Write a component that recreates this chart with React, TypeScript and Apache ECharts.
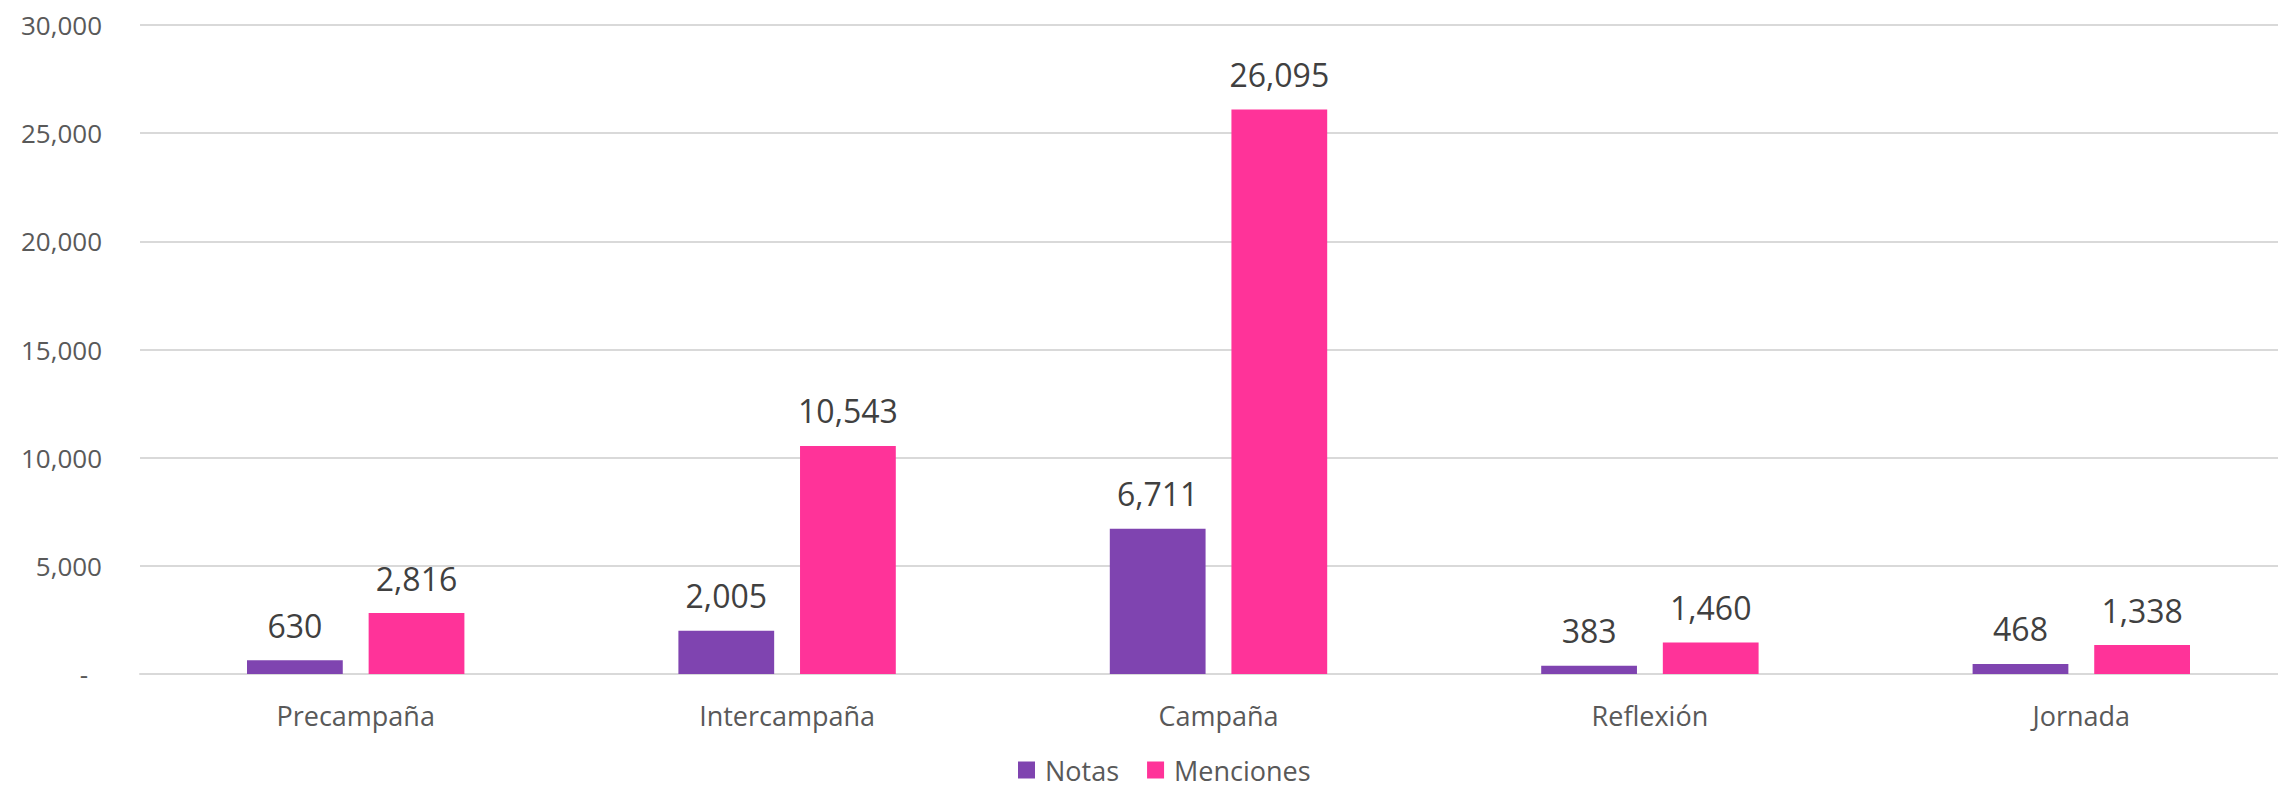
import React, { useEffect, useRef } from "react";
import * as echarts from "echarts";

const categories = ["Precampaña", "Intercampaña", "Campaña", "Reflexión", "Jornada"];
const notas = [630, 2005, 6711, 383, 468];
const menciones = [2816, 10543, 26095, 1460, 1338];
const seriesNames = ["Notas", "Menciones"];
const yTicks = { min: 0, max: 30000, interval: 5000 };

const FONT = "'Open Sans', 'Noto Sans', sans-serif";
const fmt = (v: number) => v.toLocaleString("en-US");

export default function App() {
  const ref = useRef<HTMLDivElement>(null);
  useEffect(() => {
    if (!ref.current) return;
    const chart = echarts.init(ref.current, undefined, { renderer: "svg" });
    const label = {
      show: true,
      position: "top",
      distance: 19,
      color: "#404040",
      fontSize: 32,
      fontFamily: FONT,
      formatter: (p: any) => fmt(p.value),
    };
    chart.setOption({
      animation: false,
      backgroundColor: "#ffffff",
      grid: { left: 140, top: 25, width: 2157, height: 649, containLabel: false },
      legend: {
        data: seriesNames,
        left: 1013,
        top: 750,
        itemWidth: 17,
        itemHeight: 17,
        itemGap: 28,
        icon: "rect",
        textStyle: {
          color: "#595959",
          fontSize: 27,
          lineHeight: 30,
          fontFamily: FONT,
          padding: [0, 0, 0, 5],
        },
      },
      xAxis: {
        type: "category",
        data: categories,
        axisLine: { show: true, lineStyle: { color: "#d9d9d9", width: 2 } },
        axisTick: { show: false },
        axisLabel: { color: "#595959", fontSize: 27, fontFamily: FONT, margin: 28 },
      },
      yAxis: {
        type: "value",
        min: yTicks.min,
        max: yTicks.max,
        interval: yTicks.interval,
        axisLine: { show: false },
        axisTick: { show: false },
        splitLine: { lineStyle: { color: "#d9d9d9", width: 2 } },
        axisLabel: {
          color: "#595959",
          fontSize: 26,
          fontFamily: FONT,
          margin: 38,
          formatter: (v: number) => (v === 0 ? "{z|-}" : fmt(v)),
          rich: { z: { color: "#595959", fontSize: 26, fontFamily: FONT, padding: [0, 14, 0, 0] } },
        },
      },
      series: [
        {
          name: seriesNames[0],
          type: "bar",
          data: notas,
          barWidth: "22.2%",
          barGap: "27%",
          itemStyle: { color: "#7f44b0" },
          label,
        },
        {
          name: seriesNames[1],
          type: "bar",
          data: menciones,
          barWidth: "22.2%",
          barGap: "27%",
          itemStyle: { color: "#ff3399" },
          label,
        },
      ],
    });
    return () => chart.dispose();
  }, []);
  return (
    <div
      style={{
        position: "fixed",
        left: 0,
        top: 0,
        width: 2278,
        height: 789,
        overflow: "hidden",
        background: "#fff",
      }}
    >
      <div ref={ref} style={{ width: 2300, height: 789 }} />
    </div>
  );
}
